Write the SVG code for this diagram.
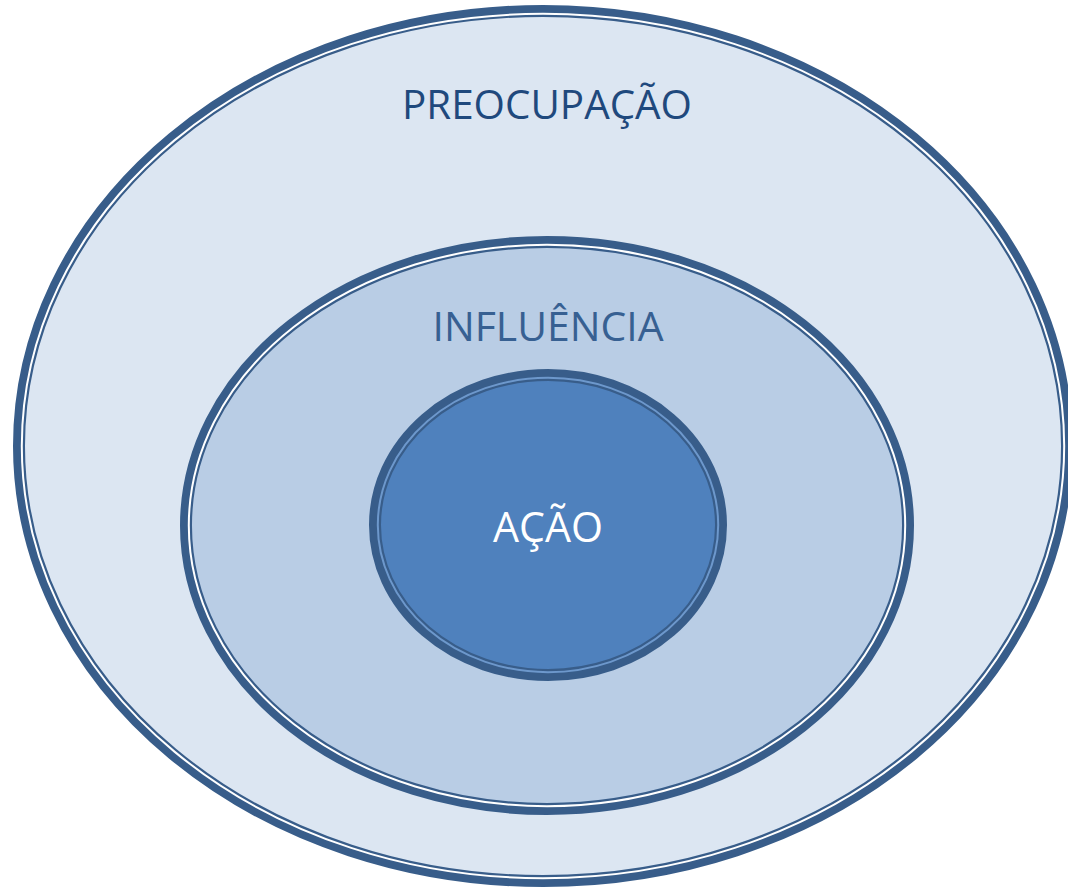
<svg xmlns="http://www.w3.org/2000/svg" width="1068" height="893" viewBox="0 0 1068 893">
<style>
.band{stroke:#385d8a;stroke-width:12}
.gap{fill:none;stroke:#ffffff;stroke-width:2}
.lbl{font-family:"Open Sans","Liberation Sans",sans-serif;text-anchor:middle}
</style>
<rect width="1068" height="893" fill="#ffffff"/>
<g id="preocupacao">
<ellipse cx="543" cy="446" rx="524" ry="435" fill="#dce6f2" class="band"/>
<ellipse cx="543" cy="446" rx="521.2" ry="432.2" class="gap"/>
<text class="lbl" x="547" y="119" font-size="41" fill="#1f497d" textLength="290" lengthAdjust="spacingAndGlyphs">PREOCUPAÇÃO</text>
</g>
<g id="influencia">
<ellipse cx="547" cy="525.5" rx="361" ry="283.5" fill="#b9cde5" class="band"/>
<ellipse cx="547" cy="525.5" rx="358.2" ry="280.7" class="gap"/>
<text class="lbl" x="548" y="341" font-size="40" fill="#376092" textLength="231" lengthAdjust="spacingAndGlyphs">INFLUÊNCIA</text>
</g>
<g id="acao">
<ellipse cx="548" cy="525" rx="173" ry="150" fill="#4f81bd" class="band"/>
<ellipse cx="548" cy="525" rx="170.2" ry="147.2" fill="none" stroke="#6d98cc" stroke-width="2"/>
<text class="lbl" x="548" y="542" font-size="42" fill="#ffffff" textLength="110" lengthAdjust="spacingAndGlyphs">AÇÃO</text>
</g>
<g id="connectors"/>
</svg>
